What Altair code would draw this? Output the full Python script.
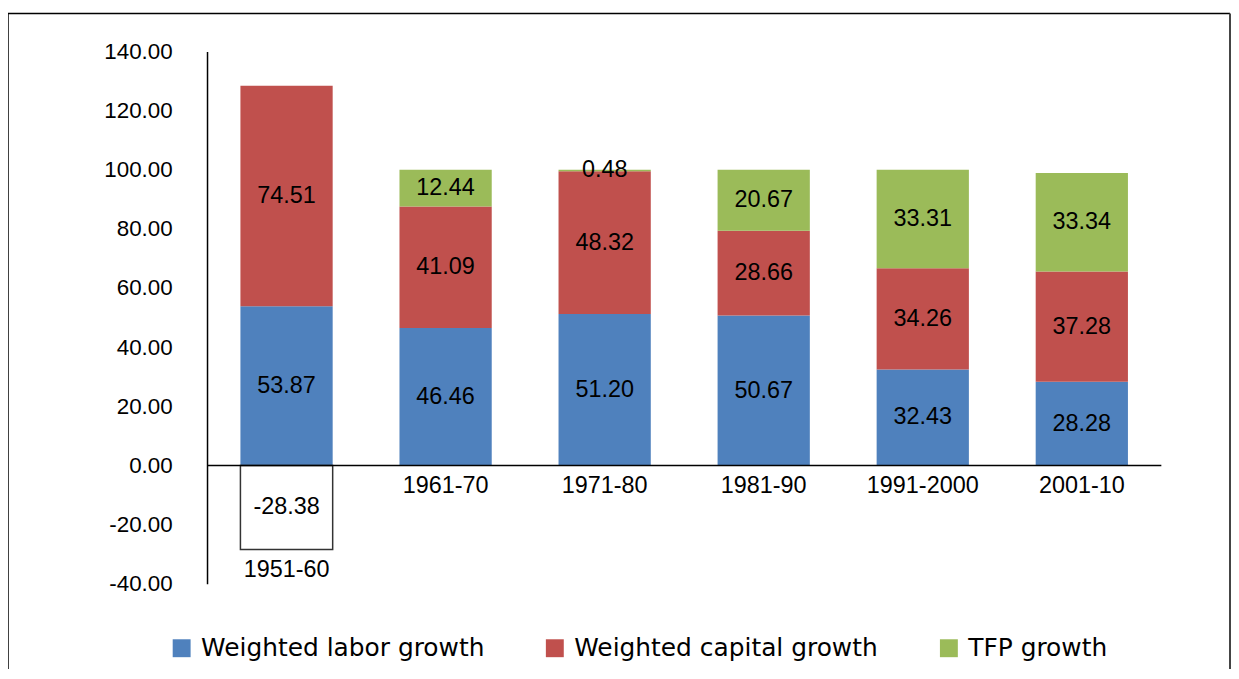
import altair as alt
import pandas as pd

periods = ["1951-60", "1961-70", "1971-80", "1981-90", "1991-2000", "2001-10"]
labor = [53.87, 46.46, 51.20, 50.67, 32.43, 28.28]
capital = [74.51, 41.09, 48.32, 28.66, 34.26, 37.28]
tfp = [-28.38, 12.44, 0.48, 20.67, 33.31, 33.34]
series = ["Weighted labor growth", "Weighted capital growth", "TFP growth"]
colors = ["#4F81BD", "#C0504D", "#9BBB59"]
y_ticks = [-40, -20, 0, 20, 40, 60, 80, 100, 120, 140]

rows = []
for i, p in enumerate(periods):
    for k, (name, vals) in enumerate(zip(series, [labor, capital, tfp])):
        rows.append({"period": p, "series": name, "order": k, "value": vals[i],
                     "label": f"{vals[i]:.2f}"})
df = pd.DataFrame(rows)

NUM_FONT = "Liberation Sans, Arial, sans-serif"

x_enc = alt.X("period:N", sort=periods, axis=None,
              scale=alt.Scale(paddingInner=0.42, paddingOuter=0.21))
y_scale = alt.Scale(domain=[-40, 140], nice=False)

base = alt.Chart(df).transform_stack(
    stack="value", groupby=["period"], as_=["v0", "v1"],
    sort=[alt.SortField("order", "ascending")]
)

bars = base.mark_bar(stroke="#333333").encode(
    x=x_enc,
    y=alt.Y("v0:Q", scale=y_scale,
            axis=alt.Axis(values=y_ticks, grid=False, ticks=False,
                          labelExpr="replace(format(datum.value, '.2f'), '\u2212', '-')",
                          domainColor="black", domainWidth=1.5, labelFont=NUM_FONT,
                          labelFontSize=22.5, labelColor="black", labelPadding=35,
                          title=None)),
    y2="v1:Q",
    color=alt.condition(
        "datum.value < 0",
        alt.value("white"),
        alt.Color("series:N",
                  scale=alt.Scale(domain=series, range=colors),
                  legend=alt.Legend(orient="none", legendX=-38, legendY=587,
                                    direction="horizontal", columns=3,
                                    symbolType="square", symbolSize=324,
                                    symbolStrokeWidth=0, labelFont="DejaVu Sans",
                                    labelFontSize=25, labelColor="black",
                                    labelOffset=7, columnPadding=58, title=None,
                                    padding=0, labelLimit=400)),
    ),
    strokeWidth=alt.condition("datum.value < 0", alt.value(1.5), alt.value(0)),
    order=alt.Order("order:Q"),
)

labels = base.transform_calculate(
    mid="(datum.v0 + datum.v1) / 2"
).mark_text(font=NUM_FONT, fontSize=23.5, color="black", baseline="middle").encode(
    x=x_enc,
    y=alt.Y("mid:Q", scale=y_scale),
    text="label:N",
)

cat_labels = base.transform_calculate(
    low="min(datum.v0, datum.v1)"
).transform_aggregate(
    low="min(low)", groupby=["period"]
).mark_text(font=NUM_FONT, fontSize=23.5, color="black", baseline="middle", dy=21).encode(
    x=x_enc,
    y=alt.Y("low:Q", scale=y_scale),
    text="period:N",
)

zero = alt.Chart(pd.DataFrame({"z": [0]})).mark_rule(color="black", strokeWidth=1.3).encode(
    y=alt.Y("z:Q", scale=y_scale)
)

one = pd.DataFrame({"a": [0]})
frame_left = alt.Chart(one).mark_rule(color="black", strokeWidth=1.5).encode(
    x=alt.value(-200), y=alt.value(-38), y2=alt.value(640))
frame_top = alt.Chart(one).mark_rule(color="black", strokeWidth=1.5).encode(
    x=alt.value(-200), x2=alt.value(1028), y=alt.value(-38))
frame_right = alt.Chart(one).mark_rule(color="#444444", strokeWidth=2).encode(
    x=alt.value(1028), y=alt.value(-38), y2=alt.value(640))

chart = alt.layer(
    frame_left, frame_top, frame_right, bars, zero, labels, cat_labels
).properties(
    width=959, height=535,
    padding={"left": 200, "top": 42, "right": 70, "bottom": 84},
    autosize=alt.AutoSizeParams(type="none"),
    background="white",
).configure_view(stroke=None)

chart.save("out.html", embed_options={"renderer": "svg", "actions": False})
